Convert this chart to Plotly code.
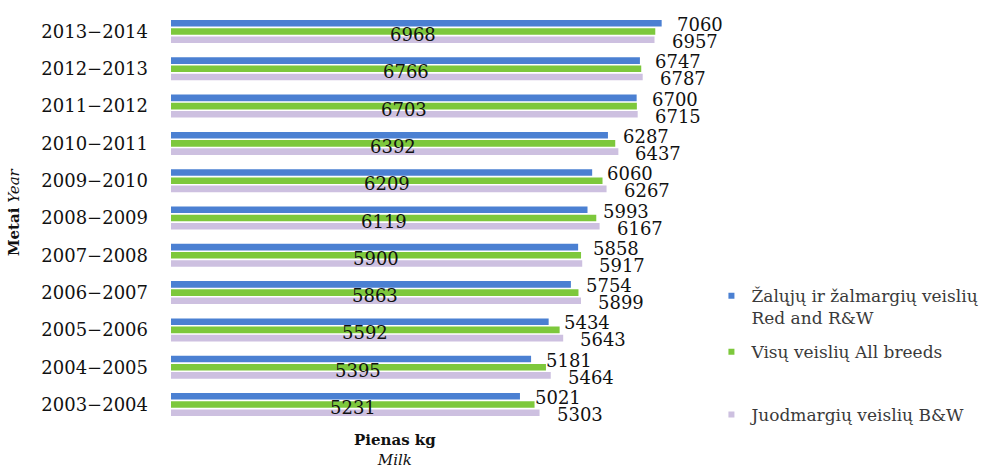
import plotly.graph_objects as go

categories = ["2013−2014", "2012−2013", "2011−2012", "2010−2011", "2009−2010",
              "2008−2009", "2007−2008", "2006−2007", "2005−2006", "2004−2005", "2003−2004"]
red_rw = [7060, 6747, 6700, 6287, 6060, 5993, 5858, 5754, 5434, 5181, 5021]
all_breeds = [6968, 6766, 6703, 6392, 6209, 6119, 5900, 5863, 5592, 5395, 5231]
bw = [6957, 6787, 6715, 6437, 6267, 6167, 5917, 5899, 5643, 5464, 5303]

names = ["Žalųjų ir žalmargių veislių<br>Red and R&W",
         "Visų veislių All breeds",
         "Juodmargių veislių B&W"]
colors = ["#4b80d2", "#7dc83c", "#cdc0e0"]

SERIF = "DejaVu Serif"

fig = go.Figure()
for vals, col in zip([red_rw, all_breeds, bw], colors):
    fig.add_trace(go.Bar(y=categories, x=vals, orientation="h",
                         marker=dict(color=col, line=dict(width=0)),
                         showlegend=False, hoverinfo="x+y"))

# legend entries (small square symbols)
legend_ids = ["legend", "legend2", "legend3"]
for name, col, lid in zip(names, colors, legend_ids):
    fig.add_trace(go.Scatter(x=[None], y=[None], mode="markers", name=name,
                             marker=dict(symbol="square", size=6, color=col),
                             legend=lid, showlegend=True))

# value labels
ann = []
for cat, v in zip(categories, red_rw):
    ann.append(dict(x=v, y=cat, text=str(v), xanchor="left", yanchor="middle",
                    xshift=13, yshift=7, showarrow=False))
for cat, v in zip(categories, all_breeds):
    ann.append(dict(x=v / 2, y=cat, text=str(v), xanchor="center", yanchor="middle",
                    yshift=-3, showarrow=False))
for cat, v in zip(categories, bw):
    ann.append(dict(x=v, y=cat, text=str(v), xanchor="left", yanchor="middle",
                    xshift=15, yshift=-10, showarrow=False))
for a in ann:
    a["font"] = dict(family=SERIF, size=18, color="#111111")
    a["xref"] = "x"
    a["yref"] = "y"

# axis titles
ann.append(dict(xref="paper", yref="paper", x=-0.281, y=0.51, textangle=-90,
                text="<b>Metai</b> <i>Year</i>", showarrow=False,
                xanchor="center", yanchor="middle",
                font=dict(family=SERIF, size=15, color="#111111")))
ann.append(dict(xref="paper", yref="paper", x=0.403, y=-0.012,
                text="<b>Pienas kg</b><br><i>Milk</i>", showarrow=False,
                xanchor="center", yanchor="top",
                font=dict(family=SERIF, size=15, color="#111111")))

leg_common = dict(xref="container", yref="container", xanchor="left", yanchor="middle",
                  bgcolor="rgba(0,0,0,0)", borderwidth=0,
                  font=dict(family=SERIF, size=17, color="#3a3a3a"),
                  itemclick=False, itemdoubleclick=False)

fig.update_layout(
    width=984, height=469,
    margin=dict(l=171, r=257, t=9, b=45, autoexpand=False),
    paper_bgcolor="white", plot_bgcolor="white",
    barmode="group", bargap=0.34, bargroupgap=0.2,
    annotations=ann,
    legend=dict(x=0.723, y=0.345, valign="top", **leg_common),
    legend2=dict(x=0.723, y=0.249, **leg_common),
    legend3=dict(x=0.723, y=0.115, **leg_common),
    xaxis=dict(range=[0, 8000], visible=False, showgrid=False, zeroline=False,
               automargin=False),
    yaxis=dict(autorange="reversed", showgrid=False, showline=False, zeroline=False,
               ticks="", ticklabelstandoff=22, automargin=False,
               tickfont=dict(family=SERIF, size=18, color="#111111")),
)

fig.write_html("out.html", config={"displayModeBar": False},
               post_script="document.body.style.margin='0';document.body.style.overflow='hidden';")
